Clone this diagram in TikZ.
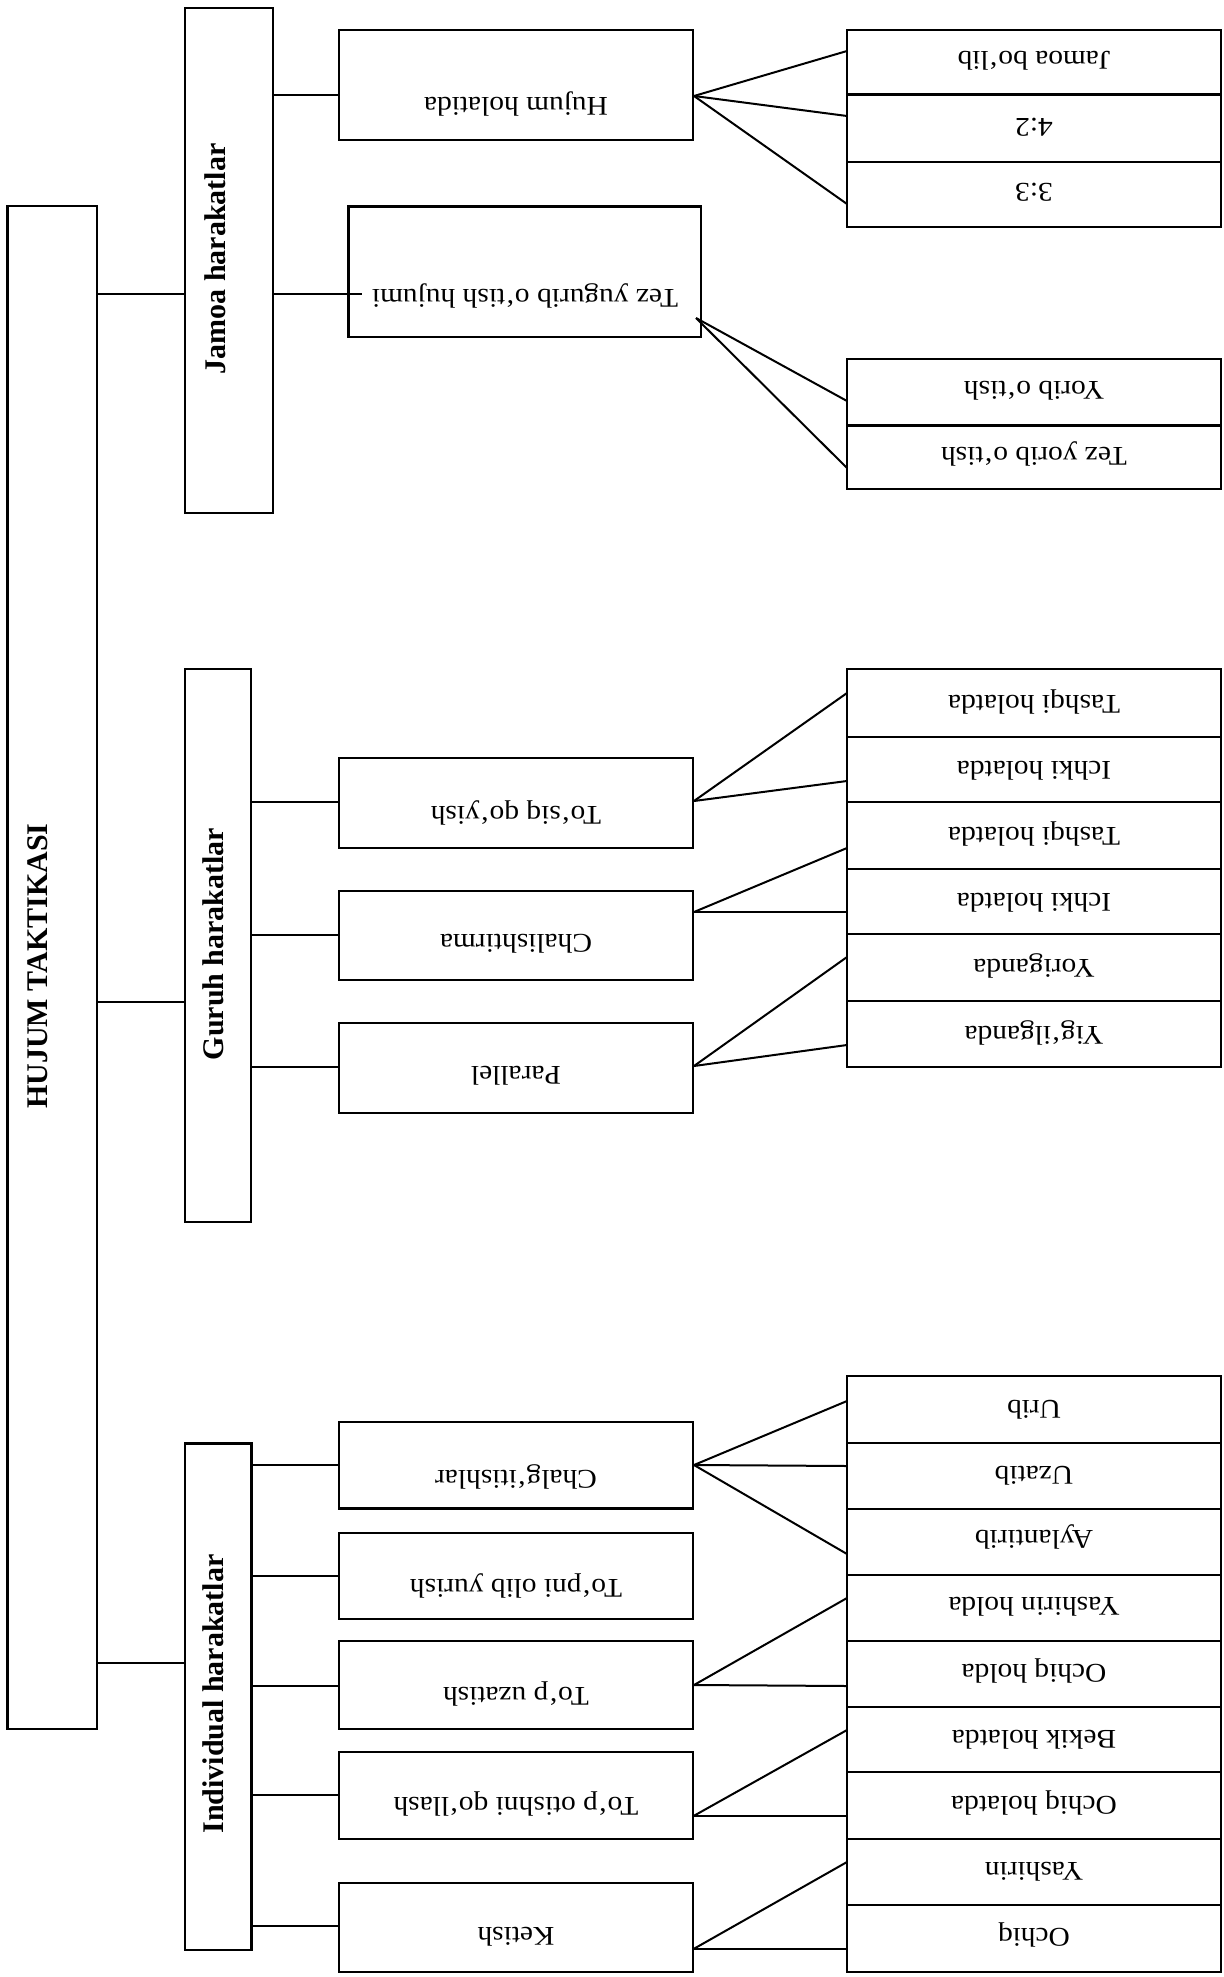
\documentclass[tikz,border=0pt]{standalone}
\usepackage{fontspec}
\setmainfont{Liberation Serif}
\newcommand{\mybox}[5]{\node[box, minimum width={(#4)-(#2)}, minimum height={(#5)-(#3)}] (#1) at ({((#2)+(#4))/2},{((#3)+(#5))/2}) {};}
\tikzset{
  box/.style={draw, rectangle, inner sep=0pt, outer sep=0pt, line width=2.2pt},
  conn/.style={line width=2pt},
  vtext/.style={rotate=90, anchor=base, inner sep=0pt, font=\bfseries\fontsize{30}{36}\selectfont},
  utext/.style={rotate=180, xscale=1.09, anchor=base, inner sep=0pt, font=\fontsize{27}{32}\selectfont}
}
\begin{document}
\begin{tikzpicture}[x=1pt,y=-1pt]
\useasboundingbox (0,0) rectangle (1223,1977);
\fill[white] (0,0) rectangle (1223,1977);

% level 1
\mybox{hujum}{7.5}{206}{97}{1729}
\node[vtext] (thujum) at (47.7,966) {HUJUM TAKTIKASI};

% level 2
\mybox{jamoa}{185}{8}{273}{513}
\node[vtext] (tjamoa) at (225,259) {Jamoa harakatlar};
\mybox{guruh}{185}{669}{251}{1222}
\node[vtext] (tguruh) at (223,944) {Guruh harakatlar};
\mybox{indiv}{185}{1443.5}{251.5}{1950}
\node[vtext] (tindiv) at (223,1694) {Individual harakatlar};

% level 3
\mybox{hujumh}{339}{30}{693}{140}
\node[utext] (thujumh) at (516,97.5) {Hujum holatida};
\mybox{tez}{348.5}{206.5}{701}{337}
\node[utext] (ttez) at (525,289) {Tez yugurib o‘tish hujumi};
\mybox{tosiq}{339}{758}{693}{848}
\node[utext] (ttosiq) at (516,806) {To‘siq qo‘yish};
\mybox{chal}{339}{891}{693}{980}
\node[utext] (tchal) at (516,934) {Chalishtirma};
\mybox{paral}{339}{1023}{693}{1113}
\node[utext] (tparal) at (516,1066) {Parallel};
\mybox{chalg}{339}{1422}{693}{1508.5}
\node[utext] (tchalg) at (516,1470) {Chalg‘itishlar};
\mybox{topni}{339}{1533}{693}{1619}
\node[utext] (ttopni) at (516,1579) {To‘pni olib yurish};
\mybox{uzat}{339}{1641}{693}{1729}
\node[utext] (tuzat) at (516,1687) {To‘p uzatish};
\mybox{otish}{339}{1752}{693}{1839}
\node[utext] (totish) at (516,1797) {To‘p otishni qo‘llash};
\mybox{ketish}{339}{1883}{693}{1972}
\node[utext] (tketish) at (516,1927) {Ketish};

% level 4 - Jamoa
\mybox{jb}{847}{30}{1221}{94.5}
\node[utext] (tjb) at (1034,52) {Jamoa bo‘lib};
\mybox{fa}{847}{94.5}{1221}{162}
\node[utext] (tfa) at (1034,118.5) {4:2};
\mybox{th}{847}{162}{1221}{227}
\node[utext] (tth) at (1034,184) {3:3};
\mybox{yo}{847}{359}{1221}{425.5}
\node[utext] (tyo) at (1034,381) {Yorib o‘tish};
\mybox{tyo2}{847}{425.5}{1221}{489}
\node[utext] (ttyo2) at (1034,447) {Tez yorib o‘tish};

% level 4 - Guruh
\mybox{g1}{847}{669}{1221}{737}
\node[utext] (tg1) at (1034,695) {Tashqi holatda};
\mybox{g2}{847}{737}{1221}{802}
\node[utext] (tg2) at (1034,761) {Ichki holatda};
\mybox{g3}{847}{802}{1221}{869}
\node[utext] (tg3) at (1034,827) {Tashqi holatda};
\mybox{g4}{847}{869}{1221}{934}
\node[utext] (tg4) at (1034,893) {Ichki holatda};
\mybox{g5}{847}{934}{1221}{1001}
\node[utext] (tg5) at (1034,959) {Yoriganda};
\mybox{g6}{847}{1001}{1221}{1067}
\node[utext] (tg6) at (1034,1026) {Yig‘ilganda};

% level 4 - Individual
\mybox{i1}{847}{1376}{1221}{1443}
\node[utext] (ti1) at (1034,1400) {Urib};
\mybox{i2}{847}{1443}{1221}{1509}
\node[utext] (ti2) at (1034,1466) {Uzatib};
\mybox{i3}{847}{1509}{1221}{1575}
\node[utext] (ti3) at (1034,1530) {Aylantirib};
\mybox{i4}{847}{1575}{1221}{1641}
\node[utext] (ti4) at (1034,1597) {Yashirin holda};
\mybox{i5}{847}{1641}{1221}{1707}
\node[utext] (ti5) at (1034,1664) {Ochiq holda};
\mybox{i6}{847}{1707}{1221}{1772}
\node[utext] (ti6) at (1034,1730) {Bekik holatda};
\mybox{i7}{847}{1772}{1221}{1839}
\node[utext] (ti7) at (1034,1796) {Ochiq holatda};
\mybox{i8}{847}{1839}{1221}{1905}
\node[utext] (ti8) at (1034,1862) {Yashirin};
\mybox{i9}{847}{1905}{1221}{1972}
\node[utext] (ti9) at (1034,1928) {Ochiq};

% connectors level1 -> level2
\coordinate (tezin) at (362,294);
\draw[conn] (hujum.east |- tezin) -- (jamoa.west |- tezin);
\draw[conn] (hujum.east |- 0,1002) -- (guruh.west |- 0,1002);
\draw[conn] (hujum.east |- 0,1662.5) -- (indiv.west |- 0,1662.5);

% level2 -> level3
\draw[conn] (jamoa.east |- 0,95) -- (hujumh.west |- 0,95);
\draw[conn] (jamoa.east |- tezin) -- (tezin);
\draw[conn] (guruh.east |- 0,802) -- (tosiq.west |- 0,802);
\draw[conn] (guruh.east |- 0,935) -- (chal.west |- 0,935);
\draw[conn] (guruh.east |- 0,1067) -- (paral.west |- 0,1067);
\draw[conn] (indiv.east |- 0,1465) -- (chalg.west |- 0,1465);
\draw[conn] (indiv.east |- 0,1575.5) -- (topni.west |- 0,1575.5);
\draw[conn] (indiv.east |- 0,1686) -- (uzat.west |- 0,1686);
\draw[conn] (indiv.east |- 0,1795) -- (otish.west |- 0,1795);
\draw[conn] (indiv.east |- 0,1926) -- (ketish.west |- 0,1926);

% fans level3 -> level4
\coordinate (fhujumh) at (694,96);
\draw[conn] (fhujumh) -- (jb.west |- 0,51);
\draw[conn] (fhujumh) -- (fa.west |- 0,116);
\draw[conn] (fhujumh) -- (th.west |- 0,204);
\coordinate (ftez) at (696,318);
\draw[conn] (ftez) -- (yo.west |- 0,401);
\draw[conn] (ftez) -- (tyo2.west |- 0,468);

\coordinate (ftosiq) at (694,801);
\draw[conn] (ftosiq) -- (g1.west |- 0,693);
\draw[conn] (ftosiq) -- (g2.west |- 0,781);
\coordinate (fchal) at (694,912);
\draw[conn] (fchal) -- (g3.west |- 0,848);
\draw[conn] (fchal) -- (g4.west |- 0,912);
\coordinate (fparal) at (694,1066);
\draw[conn] (fparal) -- (g5.west |- 0,957);
\draw[conn] (fparal) -- (g6.west |- 0,1045);

\coordinate (fchalg) at (694,1465);
\draw[conn] (fchalg) -- (i1.west |- 0,1401);
\draw[conn] (fchalg) -- (i2.west |- 0,1466);
\draw[conn] (fchalg) -- (i3.west |- 0,1554);
\coordinate (fuzat) at (694,1685);
\draw[conn] (fuzat) -- (i4.west |- 0,1598);
\draw[conn] (fuzat) -- (i5.west |- 0,1686);
\coordinate (fotish) at (693.5,1816);
\draw[conn] (fotish) -- (i6.west |- 0,1730);
\draw[conn] (fotish) -- (i7.west |- 0,1816);
\coordinate (fketish) at (693.5,1949);
\draw[conn] (fketish) -- (i8.west |- 0,1862);
\draw[conn] (fketish) -- (i9.west |- 0,1949);
\end{tikzpicture}
\end{document}
